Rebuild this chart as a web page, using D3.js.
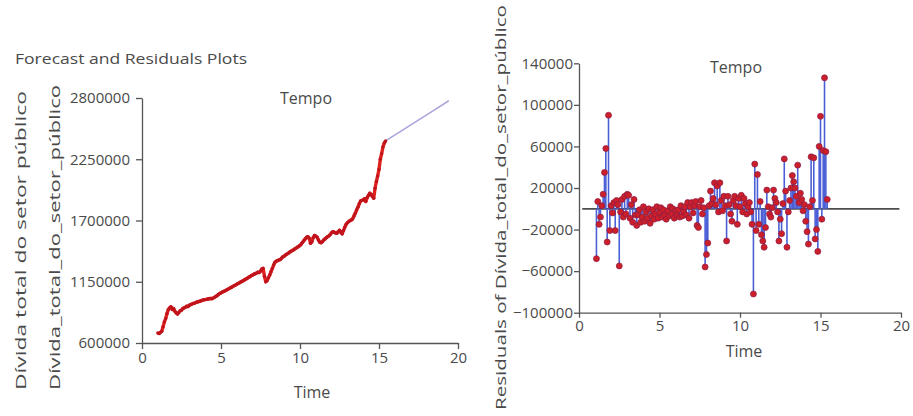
<!DOCTYPE html>
<html>
<head>
<meta charset="utf-8">
<script src="https://d3js.org/d3.v7.min.js"></script>
<style>
body { margin: 0; background: #fff; }
svg { display: block; font-family: "Open Sans", sans-serif; }
.axis path, .axis line { stroke: #555; stroke-width: 1.3; }
.axis text { fill: #4a4a4a; font-size: 15px; font-family: "Open Sans", sans-serif; }
.lbl { fill: #4a4a4a; }
</style>
</head>
<body>
<svg width="913" height="416"></svg>
<script>
// data.........................................................................

var startTime = 1, frequency = 12;

// Dívida total do setor público, monthly
var debt = [
	690000, 685000, 695000, 705000, 745000, 790000, 820000, 865000, 900000, 915000,
	925000, 900000, 910000, 885000, 870000, 860000, 875000, 890000, 895000, 910000,
	915000, 922000, 930000, 928000, 940000, 945000, 950000, 956000, 958000, 965000,
	968000, 972000, 975000, 980000, 985000, 988000, 990000, 992000, 995000, 998000,
	1000000, 998000, 1003000, 1010000, 1018000, 1025000, 1035000, 1045000, 1050000, 1058000,
	1062000, 1068000, 1075000, 1080000, 1088000, 1095000, 1100000, 1108000, 1115000, 1120000,
	1128000, 1135000, 1140000, 1148000, 1155000, 1160000, 1168000, 1175000, 1182000, 1190000,
	1196000, 1205000, 1210000, 1218000, 1222000, 1228000, 1235000, 1232000, 1245000, 1265000,
	1270000, 1200000, 1150000, 1160000, 1185000, 1210000, 1240000, 1270000, 1300000, 1325000,
	1335000, 1340000, 1345000, 1350000, 1362000, 1375000, 1380000, 1390000, 1398000, 1405000,
	1415000, 1422000, 1430000, 1435000, 1445000, 1452000, 1460000, 1468000, 1475000, 1490000,
	1505000, 1520000, 1535000, 1550000, 1555000, 1540000, 1495000, 1510000, 1545000, 1565000,
	1560000, 1550000, 1525000, 1505000, 1500000, 1510000, 1525000, 1535000, 1545000, 1555000,
	1562000, 1575000, 1590000, 1600000, 1595000, 1588000, 1585000, 1600000, 1612000, 1595000,
	1580000, 1610000, 1640000, 1665000, 1680000, 1690000, 1700000, 1705000, 1715000, 1740000,
	1765000, 1795000, 1820000, 1850000, 1875000, 1880000, 1885000, 1895000, 1870000, 1905000,
	1925000, 1945000, 1935000, 1915000, 1900000, 1990000, 2050000, 2100000, 2160000, 2250000,
	2300000, 2360000, 2395000, 2415000
];

// forecast
var forecastTime = [15.417, 16.417, 17.417, 18.417, 19.417];
var forecast = [2415000, 2505000, 2595000, 2685000, 2775000];

// residuals, from the second month on
var residuals = [
	-48000, 7000, -15000, -8000, 3000, 14000, 35000, 58000, -32000, 90000,
	-21000, 3000, -4000, 6000, -21000, 8000, 4000, -55000, -3000, 9000,
	-8000, 12000, -5000, 14000, 13000, -9000, 4000, -13000, 9000, -6000,
	-16000, -6000, -1000, -13000, -8000, 2000, -12000, -3000, -9000, 0,
	-14000, -7000, -1000, -10000, -5000, 2000, -9000, -3000, 1000, -8000,
	-1000, -6000, -10000, -2000, -7000, 2000, -5000, 0, -9000, -2000,
	-6000, -1000, -8000, 3000, -7000, -3000, 2000, -6000, 6000, -9000,
	2000, 6000, -4000, 3000, 7000, -16000, -18000, 2000, 8000, -5000,
	1000, -56000, -44000, -33000, 3000, 17000, 5000, 10000, 25000, 4000,
	22000, -3000, 25000, 8000, -2000, 12000, 3000, -31000, 12000, 4000,
	-5000, -12000, 8000, 12000, 3000, -15000, 10000, 2000, 13000, -3000,
	10000, 5000, -5000, 2000, 6000, -3000, -15000, -82000, 43000, -21000,
	33000, -15000, 7000, -25000, -31000, -37000, -18000, 18000, 2000, -5000,
	-8000, 1000, 18000, 10000, 6000, -3000, -31000, -10000, -24000, 5000,
	48000, 17000, -37000, -3000, 8000, 20000, 32000, 26000, 20000, 12000,
	42000, 6000, 15000, 9000, -2000, 4000, -12000, -22000, -34000, 2000,
	50000, 8000, 49000, -29000, -20000, -41000, 60000, 89000, -10000, 56000,
	126000, 55000, 9000
];

var timeTicks = [0, 5, 10, 15, 20];
var debtTicks = [600000, 1150000, 1700000, 2250000, 2800000];
var residTicks = [-100000, -60000, -20000, 20000, 60000, 100000, 140000];

// scales.......................................................................

var svg = d3.select("svg");

var xL = d3.scaleLinear().domain([0, 20]).range([142, 458]),
	yL = d3.scaleLinear().domain([600000, 2800000]).range([343, 98]),
	xR = d3.scaleLinear().domain([0, 20]).range([579, 901]),
	yR = d3.scaleLinear().domain([-100000, 140000]).range([312.7, 63.3]);

var debtPts = debt.map(function(d, i) { return [startTime + i / frequency, d]; }),
	forecastPts = forecast.map(function(d, i) { return [forecastTime[i], d]; }),
	residPts = residuals.map(function(d, i) { return [startTime + (i + 1) / frequency, d]; });

// texts........................................................................

svg.append("text").attr("class", "lbl")
	.attr("x", 15).attr("y", 64)
	.attr("font-size", 14)
	.attr("textLength", 232).attr("lengthAdjust", "spacingAndGlyphs")
	.text("Forecast and Residuals Plots");

function vlabel(x, y, len, txt) {
	svg.append("text").attr("class", "lbl")
		.attr("transform", "translate(" + x + "," + y + ") rotate(-90)")
		.attr("font-size", 14)
		.attr("textLength", len).attr("lengthAdjust", "spacingAndGlyphs")
		.text(txt);
}
vlabel(26, 390, 299, "Dívida total do setor público");
vlabel(60, 390, 305, "Dívida_total_do_setor_público");
vlabel(506, 410, 405, "Residuals of Dívida_total_do_setor_público");

function hlabel(x, y, txt) {
	svg.append("text").attr("class", "lbl")
		.attr("x", x).attr("y", y)
		.attr("font-size", 16)
		.attr("text-anchor", "middle")
		.text(txt);
}
hlabel(306, 104, "Tempo");
hlabel(312, 398, "Time");
hlabel(736, 73, "Tempo");
hlabel(744, 357, "Time");

// forecast plot................................................................

svg.append("g").attr("class", "axis")
	.attr("transform", "translate(0," + yL.range()[0] + ")")
	.call(d3.axisBottom(xL).tickValues(timeTicks).tickSize(6).tickPadding(3).tickSizeOuter(0));
svg.append("g").attr("class", "axis")
	.attr("transform", "translate(" + xL.range()[0] + ",0)")
	.call(d3.axisLeft(yL).tickValues(debtTicks).tickFormat(d3.format("d"))
		.tickSize(6).tickPadding(6).tickSizeOuter(0));

var line = d3.line()
	.x(function(d) { return xL(d[0]); })
	.y(function(d) { return yL(d[1]); });

svg.append("path").datum(forecastPts)
	.attr("fill", "none")
	.attr("stroke", "#aaa6dc")
	.attr("stroke-width", 1.6)
	.attr("d", line);

svg.append("path").datum(debtPts)
	.attr("fill", "none")
	.attr("stroke", "#e0221f")
	.attr("stroke-width", 3.4)
	.attr("stroke-linejoin", "round")
	.attr("d", line);

svg.append("g").selectAll("circle")
	.data(debtPts)
	.enter().append("circle")
		.attr("cx", function(d) { return xL(d[0]); })
		.attr("cy", function(d) { return yL(d[1]); })
		.attr("r", 1.7)
		.attr("fill", "#c0141c");

// residuals plot...............................................................

svg.append("g").attr("class", "axis")
	.attr("transform", "translate(0," + yR.range()[0] + ")")
	.call(d3.axisBottom(xR).tickValues(timeTicks).tickSize(5).tickPadding(3).tickSizeOuter(0));
svg.append("g").attr("class", "axis")
	.attr("transform", "translate(" + xR.range()[0] + ",0)")
	.call(d3.axisLeft(yR).tickValues(residTicks).tickFormat(d3.format("d"))
		.tickSize(5).tickPadding(1).tickSizeOuter(0));

svg.append("line")
	.attr("x1", xR(0.2)).attr("x2", xR(19.9))
	.attr("y1", yR(0)).attr("y2", yR(0))
	.attr("stroke", "#4d4d4d")
	.attr("stroke-width", 1.8);

svg.append("g").selectAll("line")
	.data(residPts)
	.enter().append("line")
		.attr("x1", function(d) { return xR(d[0]); })
		.attr("x2", function(d) { return xR(d[0]); })
		.attr("y1", yR(0))
		.attr("y2", function(d) { return yR(d[1]); })
		.attr("stroke", "#4b5fd6")
		.attr("stroke-width", 1.6);

svg.append("g").selectAll("circle")
	.data(residPts)
	.enter().append("circle")
		.attr("cx", function(d) { return xR(d[0]); })
		.attr("cy", function(d) { return yR(d[1]); })
		.attr("r", 3)
		.attr("fill", "#cc1f2a")
		.attr("stroke", "#8a1d45")
		.attr("stroke-width", 0.7);
</script>
</body>
</html>
